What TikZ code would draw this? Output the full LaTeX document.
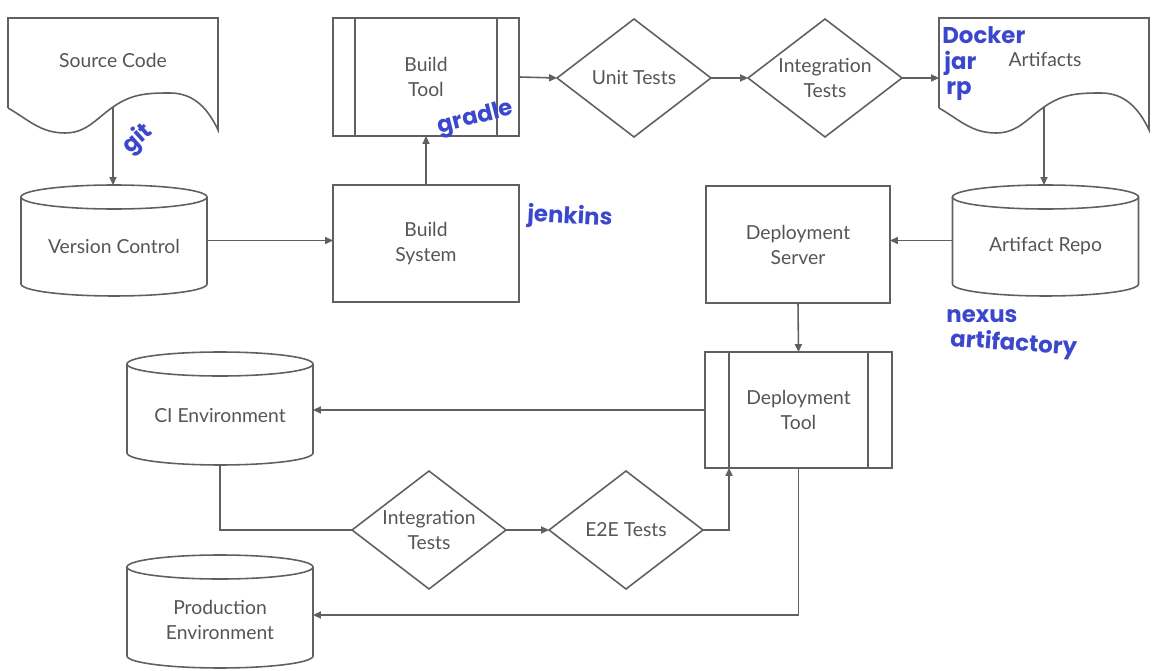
\documentclass[tikz,border=0pt]{standalone}
\usepackage{fontspec}
\setmainfont{Lato}
\newfontfamily\hand{Poppins}
\usetikzlibrary{arrows.meta,shapes.geometric,calc}
\definecolor{edge}{HTML}{606060}
\definecolor{label}{HTML}{555555}
\definecolor{ink}{HTML}{3B47CC}

% body of a drum: the node is the full outline box, 186 units wide
\newcommand{\drum}[1]{%
  \draw[shp] ([yshift=-0.24cm]#1.north west) -- ([yshift=0.24cm]#1.south west)
    arc[start angle=180,end angle=360,x radius=93,y radius=12]
    -- ([yshift=-0.24cm]#1.north east)
    arc[start angle=0,end angle=180,x radius=93,y radius=12] -- cycle;
  \draw[shp] ([yshift=-0.24cm]#1.north west)
    arc[start angle=180,end angle=360,x radius=93,y radius=12];}

% wavy-bottom document outline, 210 units wide, top-left corner at (#1,#2)
\newcommand{\docshape}[2]{%
  \draw[shp] (#1,#2-90) -- (#1,#2) -- (#1+210,#2) -- (#1+210,#2-112)
    to[out=115,in=0] (#1+162,#2-75)
    to[out=180,in=35] (#1+105,#2-89)
    to[out=-145,in=0] (#1+57,#2-115)
    to[out=180,in=-30] (#1,#2-90);}

\tikzset{
  shp/.style={draw=edge,line width=0.9pt},
  arr/.style={shp,-{Triangle[length=4.5pt,width=4pt]}},
  txt/.style={text=label,font=\fontsize{11}{14.2}\selectfont,align=center,inner sep=0pt},
  anchorbox/.style={draw=none,inner sep=0pt,outer sep=0pt,minimum width=#1},
  procbox/.style={shp,inner sep=0pt,outer sep=0pt,minimum width=3.72cm,minimum height=2.34cm,
    text=label,font=\fontsize{11}{14.2}\selectfont,align=center},
  decision/.style={shp,diamond,inner sep=0pt,outer sep=0pt,minimum width=3.08cm,minimum height=2.36cm},
  note/.style={text=ink,font=\hand\bfseries\fontsize{13}{15}\selectfont,inner sep=0pt,anchor=west},
}

\begin{document}
\begin{tikzpicture}[x=0.02cm,y=0.02cm]
\useasboundingbox (0,0) rectangle (1152,-671);

% documents
\node[anchorbox=4.2cm,minimum height=2.24cm] (sc) at (113,-74) {};
\docshape{8}{-18}
\node[txt] (sc-t) at (113,-60) {Source Code};
\coordinate (sc-w) at (113,-107);

\node[anchorbox=4.2cm,minimum height=2.24cm] (af) at (1044,-74) {};
\docshape{939}{-18}
\node[txt] (af-t) at (1045,-60) {Artifacts};
\coordinate (af-w) at (1044,-107);

% drums
\node[anchorbox=3.72cm,minimum height=2.22cm] (vc) at (114,-240.5) {};
\drum{vc}
\node[txt] (vc-t) at (114,-246) {Version Control};

\node[anchorbox=3.72cm,minimum height=2.22cm] (ar) at (1045.5,-240.5) {};
\drum{ar}
\node[txt] (ar-t) at (1045.5,-246) {Artifact Repo};

\node[anchorbox=3.72cm,minimum height=2.26cm] (ci) at (220,-408.5) {};
\drum{ci}
\node[txt] (ci-t) at (220,-416) {CI Environment};

\node[anchorbox=3.72cm,minimum height=2.26cm] (pe) at (220,-611.5) {};
\drum{pe}
\node[txt] (pe-t) at (220,-620) {Production\\Environment};

% process boxes
\node[procbox,minimum height=2.36cm] (bt) at (426,-77) {Build\\Tool};
\draw[shp] ([xshift=0.44cm]bt.north west) -- ([xshift=0.44cm]bt.south west);
\draw[shp] ([xshift=-0.44cm]bt.north east) -- ([xshift=-0.44cm]bt.south east);

\node[procbox] (bs) at (426,-243.5) {Build\\System};
\node[procbox,minimum width=3.68cm] (ds) at (798,-244.5) {Deployment\\Server};

\node[procbox,minimum width=3.74cm,minimum height=2.32cm] (dt) at (798.5,-410) {Deployment\\Tool};
\draw[shp] ([xshift=0.48cm]dt.north west) -- ([xshift=0.48cm]dt.south west);
\draw[shp] ([xshift=-0.48cm]dt.north east) -- ([xshift=-0.48cm]dt.south east);

% decisions (outline and wording kept apart so the outline keeps its size)
\node[decision] (ut) at (634,-78) {};
\node[txt] (ut-t) at (ut) {Unit Tests};
\node[decision] (it1) at (825,-78) {};
\node[txt] (it1-t) at (it1) {Integration\\Tests};
\node[decision] (it2) at (429,-530) {};
\node[txt] (it2-t) at (it2) {Integration\\Tests};
\node[decision] (e2e) at (626,-530) {};
\node[txt] (e2e-t) at (e2e) {E2E Tests};

% connectors
\draw[arr] (sc-w) -- (sc-w |- vc.north);
\draw[arr] (vc.east) -- (vc.east -| bs.west);
\draw[arr] (bs.north) -- (bt.south);
\draw[arr] (bt.east) -- (ut.west);
\draw[arr] (ut.east) -- (it1.west);
\draw[arr] (it1.east) -- (it1.east -| af.west);
\draw[arr] (af-w) -- (af-w |- ar.north);
\draw[arr] (ar.west) -- (ar.west -| ds.east);
\draw[arr] (ds.south) -- (dt.north);
\draw[arr] (dt.west) -- (dt.west -| ci.east);
\draw[shp] (ci.south) |- (it2.west);
\draw[arr] (it2.east) -- (e2e.west);
\draw[arr] (e2e.east) -| ([xshift=0.48cm]dt.south west);
\draw[arr] (dt.south) |- ([yshift=-0.07cm]pe.east);

% handwritten tool notes
\node[note,rotate=42] (n-git) at (126,-150) {git};
\node[note,rotate=14] (n-gradle) at (438,-128) {gradle};
\node[note,rotate=-3] (n-jenkins) at (527,-215) {jenkins};
\node[note] (n-docker) at (942,-35) {Docker};
\node[note] (n-jar) at (944,-63) {jar};
\node[note] (n-rp) at (946,-91) {rp};
\node[note] (n-nexus) at (946,-316) {nexus};
\node[note,rotate=-4] (n-art) at (950,-340) {artifactory};
\end{tikzpicture}
\end{document}
